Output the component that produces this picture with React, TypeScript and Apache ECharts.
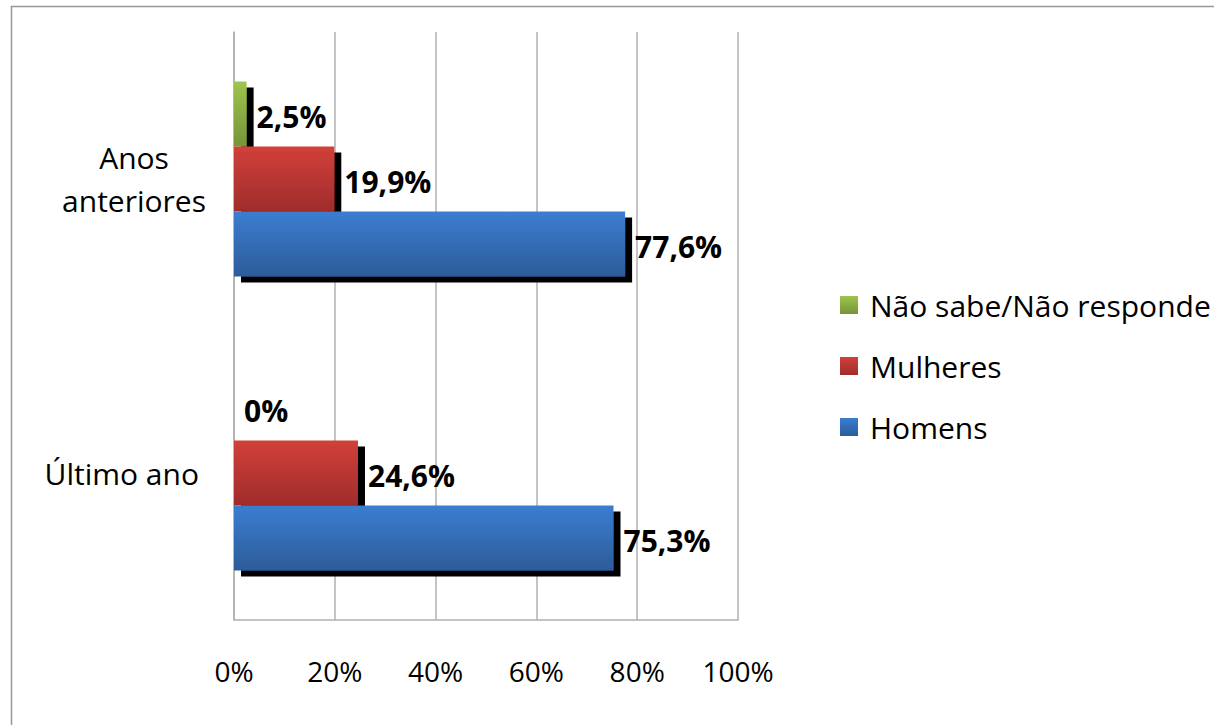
import React, { useEffect, useRef } from "react";
import * as echarts from "echarts";

const categories = ["Último ano", "Anos anteriores"];
const seriesNames = ["Não sabe/Não responde", "Mulheres", "Homens"];
const naoSabe = [0, 2.5];
const mulheres = [24.6, 19.9];
const homens = [75.3, 77.6];
const tickValues = [0, 20, 40, 60, 80, 100];

const FONT = "'Open Sans', 'Noto Sans', sans-serif";

function grad(top: string, bottom: string) {
  return new echarts.graphic.LinearGradient(0, 0, 0, 1, [
    { offset: 0, color: top },
    { offset: 1, color: bottom },
  ]);
}

function fmt(v: number) {
  return v === 0 ? "0%" : v.toFixed(1).replace(".", ",") + "%";
}

export default function App() {
  const ref = useRef<HTMLDivElement>(null);
  useEffect(() => {
    if (!ref.current) return;
    const chart = echarts.init(ref.current, undefined, { renderer: "svg" });
    const barBase = (name: string, data: number[], top: string, bottom: string) => ({
      type: "bar",
      name,
      data,
      barWidth: 65,
      barGap: "0%",
      itemStyle: {
        color: grad(top, bottom),
        shadowColor: "#000",
        shadowBlur: 0,
        shadowOffsetX: 7,
        shadowOffsetY: 6,
      },
      label: {
        show: true,
        position: "right",
        distance: 10,
        offset: [0, 2],
        formatter: (p: any) => fmt(p.value),
        fontFamily: FONT,
        fontWeight: "bold",
        fontSize: 30,
        color: "#000",
      },
    });
    chart.setOption({
      animation: false,
      backgroundColor: "#fff",
      graphic: [
        {
          type: "rect",
          shape: { x: 11.5, y: 6.5, width: 1400, height: 900 },
          style: { fill: "none", stroke: "#979797", lineWidth: 1.5 },
          silent: true,
          z: -10,
        },
      ],
      grid: { left: 234, right: 476, top: 32, bottom: 105 },
      legend: {
        orient: "vertical",
        left: 835,
        top: 285,
        itemWidth: 18,
        itemHeight: 18,
        itemGap: 31,
        icon: "rect",
        data: seriesNames,
        itemStyle: { shadowBlur: 0, shadowOffsetX: 0, shadowOffsetY: 0, shadowColor: "transparent" },
        textStyle: { fontFamily: FONT, fontSize: 30, lineHeight: 30, color: "#000", padding: [0, 0, 0, 7] },
      },
      xAxis: {
        type: "value",
        min: 0,
        max: 100,
        interval: 20,
        axisLine: { show: true, lineStyle: { color: "#b0b0b0", width: 1.5 } },
        axisTick: { show: false },
        splitLine: { show: true, lineStyle: { color: "#b0b0b0", width: 1.5 } },
        axisLabel: {
          formatter: (v: number) => (tickValues.includes(v) ? v + "%" : ""),
          fontFamily: FONT,
          fontSize: 28,
          color: "#000",
          margin: 37,
        },
      },
      yAxis: {
        type: "category",
        data: categories,
        axisLine: { show: true, lineStyle: { color: "#b0b0b0", width: 1.5 } },
        axisTick: { show: false },
        axisLabel: {
          margin: 28,
          align: "right",
          fontFamily: FONT,
          fontSize: 30,
          color: "#000",
          formatter: (v: string) => {
            const parts = v.split(" ");
            if (v === "Anos anteriores") return parts.map((p) => "{a|" + p + "}").join("\n");
            return "{b|" + v + "}";
          },
          rich: {
            a: { align: "center", fontFamily: FONT, fontSize: 30, lineHeight: 43, color: "#000" },
            b: { fontFamily: FONT, fontSize: 30, color: "#000", padding: [0, 7, 0, 0] },
          },
        },
      },
      series: [
        barBase(seriesNames[0], naoSabe, "#9ec54c", "#76933a"),
        barBase(seriesNames[1], mulheres, "#d2403a", "#9f2c2b"),
        barBase(seriesNames[2], homens, "#3b7dd0", "#2c5c9a"),
      ],
    });
    return () => chart.dispose();
  }, []);
  return (
    <div
      ref={ref}
      style={{ position: "absolute", left: 0, top: 0, width: 1214, height: 725 }}
    />
  );
}
